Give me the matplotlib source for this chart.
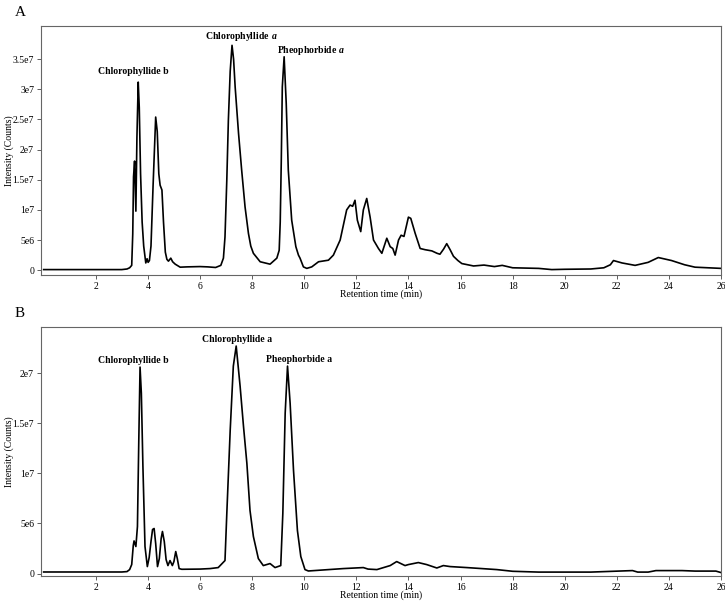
import matplotlib
matplotlib.use("Agg")
import matplotlib.pyplot as plt

plt.rcParams["font.family"] = ["Liberation Serif", "DejaVu Serif"]
plt.rcParams["mathtext.fontset"] = "custom"
plt.rcParams["mathtext.bf"] = "Liberation Serif:bold"
plt.rcParams["mathtext.bfit"] = "Liberation Serif:bold:italic"

# Panel A trace (retention time in min, intensity in counts)
time_a = [0.0, 1.0, 2.0, 3.0, 3.2, 3.3, 3.38, 3.42, 3.45, 3.49, 3.54, 3.58, 3.63, 3.67,
          3.72, 3.78, 3.84, 3.92, 3.97, 4.01, 4.06, 4.12, 4.2, 4.3, 4.36, 4.42, 4.47,
          4.54, 4.6, 4.67, 4.73, 4.79, 4.88, 4.95, 5.05, 5.24, 5.5, 6.0, 6.3, 6.6, 6.8,
          6.9, 6.96, 7.03, 7.09, 7.16, 7.23, 7.29, 7.35, 7.48, 7.6, 7.73, 7.86, 7.95,
          8.05, 8.31, 8.69, 8.95, 9.04, 9.08, 9.12, 9.16, 9.23, 9.31, 9.39, 9.52, 9.68,
          9.78, 9.84, 9.97, 10.1, 10.29, 10.55, 10.93, 11.12, 11.38, 11.63, 11.76, 11.86,
          11.95, 12.04, 12.17, 12.27, 12.4, 12.53, 12.66, 12.85, 12.98, 13.17, 13.3, 13.4,
          13.49, 13.62, 13.72, 13.83, 14.0, 14.09, 14.26, 14.45, 14.64, 14.9, 15.1, 15.21,
          15.35, 15.47, 15.6, 15.73, 15.9, 16.05, 16.5, 16.9, 17.3, 17.6, 18.0, 19.0,
          19.5, 20.0, 21.0, 21.5, 21.75, 21.87, 22.2, 22.7, 23.2, 23.59, 24.1, 24.6, 25.0,
          26.0]
intensity_a = [0.1e6, 0.1e6, 0.1e6, 0.1e6, 0.2e6, 0.4e6, 0.8e6, 6e6, 1.55e7, 1.81e7, 9.8e6,
               2.2e7, 3.12e7, 2.7e7, 1.6e7, 8e6, 4e6, 1.2e6, 1.9e6, 1.3e6, 1.6e6, 4e6, 1.4e7,
               2.54e7, 2.3e7, 1.6e7, 1.41e7, 1.33e7, 8e6, 3e6, 1.8e6, 1.5e6, 2e6, 1.4e6,
               1.0e6, 0.5e6, 0.55e6, 0.6e6, 0.55e6, 0.45e6, 0.8e6, 2e6, 5.5e6, 1.5e7, 2.49e7,
               3.3e7, 3.73e7, 3.5e7, 3.04e7, 2.27e7, 1.66e7, 1.05e7, 6.1e6, 4e6, 2.8e6, 1.4e6,
               1.0e6, 2.0e6, 3.3e6, 8e6, 1.8e7, 3.04e7, 3.54e7, 2.77e7, 1.66e7, 8.3e6, 3.9e6,
               2.5e6, 2.0e6, 0.55e6, 0.3e6, 0.55e6, 1.4e6, 1.66e6, 2.5e6, 5e6, 1e7, 1.08e7,
               1.06e7, 1.16e7, 8.3e6, 6.4e6, 1e7, 1.19e7, 8.8e6, 5e6, 3.6e6, 2.8e6, 5.3e6,
               3.9e6, 3.6e6, 2.5e6, 5e6, 5.8e6, 5.6e6, 8.8e6, 8.6e6, 6.1e6, 3.6e6, 3.4e6,
               3.2e6, 2.8e6, 2.65e6, 3.5e6, 4.4e6, 3.4e6, 2.3e6, 1.6e6, 1.1e6, 0.7e6, 0.85e6,
               0.6e6, 0.8e6, 0.4e6, 0.3e6, 0.1e6, 0.15e6, 0.2e6, 0.4e6, 0.9e6, 1.6e6, 1.2e6,
               0.8e6, 1.3e6, 2.1e6, 1.6e6, 0.9e6, 0.5e6, 0.3e6]

# Panel B trace
time_b = [0.0, 1.0, 2.0, 3.0, 3.2, 3.3, 3.38, 3.44, 3.47, 3.54, 3.6, 3.65, 3.7, 3.75, 3.81,
          3.89, 3.98, 4.05, 4.12, 4.18, 4.24, 4.3, 4.37, 4.44, 4.51, 4.56, 4.63, 4.7, 4.77,
          4.85, 4.94, 5.0, 5.07, 5.13, 5.2, 5.3, 6.0, 6.39, 6.7, 6.96, 7.03, 7.16, 7.28,
          7.39, 7.54, 7.67, 7.8, 7.92, 8.05, 8.24, 8.43, 8.69, 8.88, 9.1, 9.18, 9.27, 9.36,
          9.46, 9.59, 9.74, 9.87, 10.03, 10.16, 11.5, 12.27, 12.45, 12.79, 13.3, 13.55,
          13.87, 14.0, 14.38, 14.7, 15.09, 15.34, 15.6, 16.24, 17.39, 18.0, 19.0, 21.0,
          22.6, 22.8, 23.2, 23.5, 24.5, 25.0, 25.8, 26.0]
intensity_b = [0.16e6, 0.16e6, 0.16e6, 0.16e6, 0.2e6, 0.4e6, 0.9e6, 2.8e6, 3.26e6, 2.7e6,
               4.7e6, 1.3e7, 2.06e7, 1.8e7, 1.07e7, 2.7e6, 0.7e6, 1.6e6, 3.2e6, 4.4e6, 4.5e6,
               3e6, 0.7e6, 1.5e6, 3.5e6, 4.2e6, 3.2e6, 1.4e6, 0.8e6, 1.3e6, 0.8e6, 1.2e6,
               2.2e6, 1.5e6, 0.5e6, 0.43e6, 0.45e6, 0.5e6, 0.6e6, 1.3e6, 6e6, 1.43e7, 2.07e7,
               2.27e7, 1.87e7, 1.47e7, 1.1e7, 6.3e6, 3.7e6, 1.5e6, 0.8e6, 1.0e6, 0.6e6, 0.8e6,
               6e6, 1.6e7, 2.07e7, 1.7e7, 1.03e7, 4.3e6, 1.7e6, 0.4e6, 0.26e6, 0.5e6, 0.6e6,
               0.45e6, 0.4e6, 0.8e6, 1.2e6, 0.8e6, 0.9e6, 1.1e6, 0.9e6, 0.56e6, 0.8e6, 0.7e6,
               0.6e6, 0.4e6, 0.23e6, 0.15e6, 0.15e6, 0.3e6, 0.15e6, 0.15e6, 0.3e6, 0.3e6,
               0.25e6, 0.25e6, 0.1e6]

x_ticks = [2, 4, 6, 8, 10, 12, 14, 16, 18, 20, 22, 24, 26]
y_ticks_a = [0, 5e6, 1e7, 1.5e7, 2e7, 2.5e7, 3e7, 3.5e7]
y_labels_a = ["0", "5e6", "1e7", "1.5e7", "2e7", "2.5e7", "3e7", "3.5e7"]
y_ticks_b = [0, 5e6, 1e7, 1.5e7, 2e7]
y_labels_b = ["0", "5e6", "1e7", "1.5e7", "2e7"]

# peak labels: (text, x, y)
peaks_a = [("Chlorophyllide b", 3.46, 3.3e7),
           (r"$\mathbf{Chlorophyllide}\ \mathbfit{a}$", 7.6, 3.87e7),
           (r"$\mathbf{Pheophorbide}\ \mathbfit{a}$", 10.26, 3.64e7)]
peaks_b = [("Chlorophyllide b", 3.46, 2.13e7),
           ("Chlorophyllide a", 7.41, 2.34e7),
           ("Pheophorbide a", 9.82, 2.14e7)]

fig = plt.figure(figsize=(7.25, 6.01), dpi=100)
ax1 = fig.add_axes([0.0566, 0.5424, 0.938, 0.4143])
ax2 = fig.add_axes([0.0566, 0.0416, 0.938, 0.4143])


def style(ax, yt, yl, ylim):
    ax.set_xlim(-0.1, 26)
    ax.set_ylim(*ylim)
    ax.set_xticks(x_ticks)
    ax.set_yticks(yt)
    ax.set_yticklabels(yl)
    ax.tick_params(labelsize=7, length=3, width=0.6, color="#444444", pad=2)
    for s in ax.spines.values():
        s.set_color("#666666")
        s.set_linewidth(0.8)
    ax.set_xlabel("Retention time (min)", fontsize=7, labelpad=-1)
    ax.set_ylabel("Intensity (Counts)", fontsize=7)
    ax.yaxis.set_label_coords(-0.04, 0.5)


ax1.plot(time_a, intensity_a, color="black", linewidth=1.2)
style(ax1, y_ticks_a, y_labels_a, (-8e5, 4.05e7))
for txt, x, y in peaks_a:
    ax1.text(x, y, txt, fontsize=7, fontweight="bold", ha="center", va="center")

ax2.plot(time_b, intensity_b, color="black", linewidth=1.2)
style(ax2, y_ticks_b, y_labels_b, (-2.4e5, 2.46e7))
for txt, x, y in peaks_b:
    ax2.text(x, y, txt, fontsize=7, fontweight="bold", ha="center", va="center")

fig.text(0.02, 0.99, "A", fontsize=11, va="top")
fig.text(0.02, 0.49, "B", fontsize=11, va="top")

fig.savefig("out.png", dpi=100)
